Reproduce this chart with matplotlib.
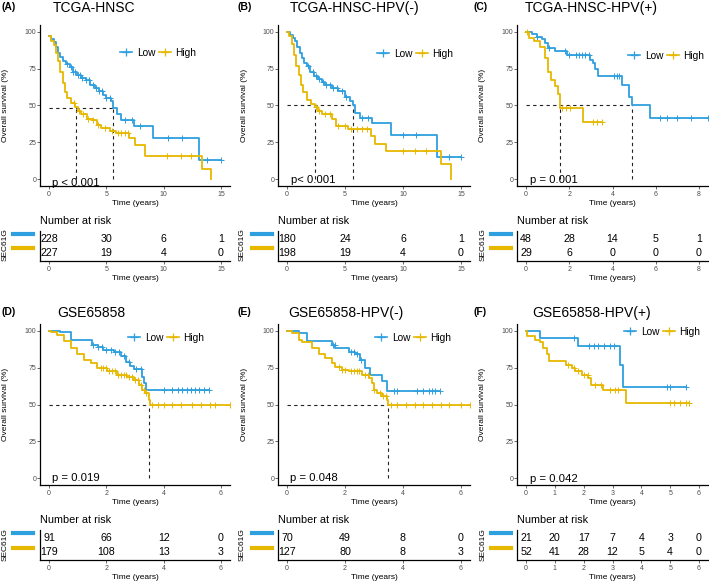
import numpy as np
import matplotlib
matplotlib.use('Agg')
import matplotlib.pyplot as plt
from matplotlib.lines import Line2D

plt.rcParams['font.family'] = ['Liberation Sans', 'DejaVu Sans']

blue = '#2E9FDF'
yellow = '#E7B800'

titles = ['TCGA-HNSC', 'TCGA-HNSC-HPV(-)', 'TCGA-HNSC-HPV(+)',
          'GSE65858', 'GSE65858-HPV(-)', 'GSE65858-HPV(+)']
letters = ['(A)', '(B)', '(C)', '(D)', '(E)', '(F)']
pvals = ['p < 0.001', 'p< 0.001', 'p = 0.001', 'p = 0.019', 'p = 0.048', 'p = 0.042']
xticks = [[0, 5, 10, 15], [0, 5, 10, 15], [0, 2, 4, 6, 8],
          [0, 2, 4, 6], [0, 2, 4, 6], [0, 1, 2, 3, 4, 5, 6]]

# survival curves: step times and survival (%), censor times
a_low_t = [0, 0.2, 0.4, 0.6, 0.8, 1.0, 1.2, 1.5, 1.8, 2.1, 2.4, 2.8, 3.2, 3.6, 4.0, 4.4, 4.7, 5.0, 5.4, 5.6, 5.9, 6.3, 7.4, 9.1, 13.1]
a_low_s = [97, 95, 93, 90, 86, 83, 80, 78, 76, 73, 71, 69, 67, 64, 62, 60, 57, 55, 53, 48, 44, 40, 36, 28, 13]
a_low_c = [1.6, 1.9, 2.1, 2.3, 2.5, 2.7, 2.9, 3.2, 3.5, 3.8, 4.1, 4.4, 4.6, 5.0, 5.3, 6.6, 7.2, 7.9, 10.4, 11.6, 13.8, 15.0]
a_high_t = [0, 0.2, 0.4, 0.6, 0.8, 1.0, 1.2, 1.4, 1.6, 1.9, 2.3, 2.5, 2.8, 3.3, 3.8, 4.2, 4.5, 5.3, 5.8, 7.0, 7.5, 8.4, 13.3, 14.1]
a_high_s = [97, 94, 91, 86, 80, 73, 65, 59, 55, 52, 49, 46, 44, 41, 40, 37, 35, 33, 31, 28, 23, 16, 7, 0]
a_high_c = [2.2, 2.6, 3.0, 3.4, 3.8, 4.3, 4.9, 5.5, 6.0, 6.3, 6.6, 6.9, 10.3, 11.5, 12.4]

b_low_t = [0, 0.3, 0.5, 0.7, 0.9, 1.1, 1.3, 1.5, 1.7, 2.0, 2.3, 2.7, 3.0, 3.3, 3.9, 4.4, 5.0, 5.4, 5.7, 5.9, 6.3, 7.3, 9.0, 12.9]
b_low_s = [100, 98, 96, 94, 90, 86, 82, 79, 77, 73, 70, 68, 66, 64, 62, 60, 56, 53, 50, 45, 41.5, 38, 30, 15]
b_low_c = [1.8, 2.2, 2.5, 2.8, 3.1, 3.4, 3.7, 4.0, 4.3, 4.7, 5.1, 6.5, 7.0, 10.0, 11.1, 14.0, 15.0]
b_high_t = [0, 0.2, 0.4, 0.6, 0.8, 1.0, 1.2, 1.4, 1.7, 2.1, 2.4, 2.7, 3.0, 3.9, 4.2, 5.3, 7.2, 7.6, 8.5, 13.3, 14.1]
b_high_s = [100, 97, 92, 84, 77, 71, 64, 59, 54, 51, 49, 46, 44, 40.5, 36, 34, 29, 24, 19, 10, 0]
b_high_c = [2.5, 2.8, 3.3, 3.7, 4.4, 5.0, 5.5, 6.0, 6.5, 6.9, 10.0, 11.0, 12.0]

c_low_t = [0, 0.28, 0.5, 0.74, 0.9, 1.04, 1.35, 1.9, 2.96, 3.1, 3.2, 3.35, 4.42, 4.78, 4.88, 5.73]
c_low_s = [100, 98.4, 96.6, 95, 92.5, 89, 87, 84.6, 81, 79, 75, 70, 64, 56, 50, 41.5]
c_low_c = [0.5, 1.05, 1.8, 2.0, 2.3, 2.45, 2.6, 2.75, 2.9, 4.05, 4.2, 4.3, 6.2, 6.5, 7.0, 7.65, 8.4]
c_high_t = [0, 0.12, 0.35, 0.66, 0.9, 1.04, 1.15, 1.35, 1.5, 1.55, 2.63]
c_high_s = [100, 96, 93.6, 90, 82, 73, 67.6, 63, 57.6, 48.3, 38.5]
c_high_c = [0.05, 1.65, 1.85, 2.05, 3.1, 3.3, 3.5]

d_low_t = [0, 0.4, 0.75, 1.5, 1.7, 1.9, 2.26, 2.5, 2.67, 2.84, 2.96, 3.25, 3.3, 3.4]
d_low_s = [100, 99, 93.6, 90.7, 89, 87, 85.5, 82.8, 79, 76, 74.4, 69, 64.6, 59.6]
d_low_c = [1.55, 1.7, 1.85, 2.0, 2.15, 2.3, 2.45, 2.6, 2.8, 3.05, 3.2, 4.0, 4.3, 4.5, 4.65, 4.8, 4.95, 5.1, 5.25, 5.4, 5.57]
d_high_t = [0, 0.06, 0.29, 0.52, 0.75, 0.99, 1.22, 1.45, 1.68, 2.03, 2.38, 2.73, 2.96, 3.13, 3.25, 3.36, 3.48, 3.51]
d_high_s = [100, 99, 97.5, 93, 88.4, 84, 80.5, 78, 74.8, 72.6, 70.3, 68.7, 66.9, 63.5, 60, 57.8, 53.3, 49.9]
d_high_c = [1.8, 1.9, 2.0, 2.1, 2.2, 2.3, 2.4, 2.5, 2.6, 2.7, 2.8, 2.9, 3.0, 3.1, 3.2, 3.3, 3.4, 3.6, 3.8, 4.0, 4.3, 4.6, 5.0, 5.3, 5.6, 5.8, 6.32]

e_low_t = [0, 0.4, 0.69, 1.55, 1.67, 2.13, 2.36, 2.53, 2.7, 2.87, 3.28, 3.45]
e_low_s = [100, 98.6, 93, 90.7, 88.4, 86, 84, 80.5, 74.8, 70.3, 65.8, 59.4]
e_low_c = [1.6, 1.65, 2.2, 2.3, 2.4, 2.55, 3.7, 3.8, 4.5, 4.7, 4.9, 5.0, 5.1, 5.29]
e_high_t = [0, 0.17, 0.4, 0.52, 0.86, 1.09, 1.32, 1.55, 1.67, 1.9, 2.13, 2.59, 2.82, 2.93, 2.99, 3.1, 3.28, 3.45, 3.5]
e_high_s = [100, 98.6, 94, 92.3, 88.4, 84, 81.6, 78.2, 75.5, 73.7, 72.6, 70.3, 68, 64.6, 60, 57.8, 55.6, 53.3, 49.9]
e_high_c = [1.8, 1.9, 2.0, 2.2, 2.3, 2.4, 2.5, 2.7, 2.8, 3.0, 3.2, 3.3, 3.4, 3.6, 3.8, 4.1, 4.4, 4.7, 5.0, 5.3, 5.6, 6.0, 6.32]

f_low_t = [0, 0.5, 1.79, 3.25, 3.35]
f_low_s = [100, 95.2, 89.6, 77, 61.7]
f_low_c = [1.65, 2.2, 2.35, 2.5, 2.7, 2.9, 3.05, 4.9, 5.0, 5.56]
f_high_t = [0, 0.05, 0.31, 0.48, 0.6, 0.72, 0.8, 1.4, 1.58, 1.7, 1.93, 2.16, 2.27, 2.68, 3.48]
f_high_s = [100, 96.8, 94, 92.3, 88.4, 84, 79.4, 77, 74.8, 72.6, 70.3, 68, 63.5, 60, 51]
f_high_c = [1.45, 1.65, 1.8, 2.0, 2.15, 2.4, 2.6, 2.9, 3.1, 3.2, 5.0, 5.15, 5.35, 5.55, 5.67]

# median survival lines (level, times)
med_level = [48, 50, 50, 50, 50, None]
med_times = [[2.35, 5.6], [2.44, 5.69], [1.55, 4.88], [3.5], [3.5], []]

# number at risk at each x tick
risk_low = [[228, 30, 6, 1], [180, 24, 6, 1], [48, 28, 14, 5, 1],
            [91, 66, 12, 0], [70, 49, 8, 0], [21, 20, 17, 7, 4, 3, 0]]
risk_high = [[227, 19, 4, 0], [198, 19, 4, 0], [29, 6, 0, 0, 0],
             [179, 108, 13, 3], [127, 80, 8, 3], [52, 41, 28, 12, 5, 4, 0]]

curves = [
    (a_low_t, a_low_s, a_low_c, a_high_t, a_high_s, a_high_c),
    (b_low_t, b_low_s, b_low_c, b_high_t, b_high_s, b_high_c),
    (c_low_t, c_low_s, c_low_c, c_high_t, c_high_s, c_high_c),
    (d_low_t, d_low_s, d_low_c, d_high_t, d_high_s, d_high_c),
    (e_low_t, e_low_s, e_low_c, e_high_t, e_high_s, e_high_c),
    (f_low_t, f_low_s, f_low_c, f_high_t, f_high_s, f_high_c),
]

W, H = 709, 582
fig = plt.figure(figsize=(W / 100, H / 100), dpi=100)


def box(l, t, r, b):
    return [l / W, 1 - b / H, (r - l) / W, (b - t) / H]


def fx(x):
    return x / W


def fy(y):
    return 1 - y / H


# pixel layout
col_x0 = [49, 287, 526]
col_x1 = [221, 461, 699]
col_ylab = [6, 244, 482]
col_letter = [2, 237, 474]
col_bar = [(13, 33), (252, 272), (491, 511)]
col_sec = [5, 242, 483]
title_x = [53, 290, 525, 57, 288, 532]
row_main = [(24.6, 186.4), (323.6, 485.4)]
row_high = [253, 552]
row_title = [8, 313]
row_nar = [221, 520]
row_bars = [(234, 248), (533, 548)]
legend_px = [(120, 53), (377, 54), (628, 56), (128, 338), (375, 338), (624, 332)]
pval_px = [(52, 183), (291, 180), (530, 180), (52, 478), (290, 478), (530, 479)]

tick_kw = dict(labelsize=5, colors='#4D4D4D', length=2, width=0.6, pad=1)


def style(ax):
    ax.spines['top'].set_visible(False)
    ax.spines['right'].set_visible(False)
    ax.spines['left'].set_linewidth(0.9)
    ax.spines['bottom'].set_linewidth(0.9)
    ax.tick_params(**tick_kw)


def step_value(t, s, x):
    return s[np.searchsorted(t, x, side='right') - 1]


for i in range(6):
    r, c = i // 3, i % 3
    T = xticks[i][-1]
    x0, x1 = col_x0[c], col_x1[c]
    L = x0 - 0.05 * (x1 - x0)
    R = x1 + 0.05 * (x1 - x0)
    top, bot = row_main[r]

    ax = fig.add_axes(box(L, top, R, bot))
    style(ax)
    ax.set_xlim(-0.05 * T, 1.05 * T)
    ax.set_ylim(-5, 105)
    ax.set_xticks(xticks[i])
    ax.set_yticks([0, 25, 50, 75, 100])
    ax.set_xlabel('Time (years)', fontsize=6, labelpad=1.5)

    lt, ls, lc, ht, hs, hc = curves[i]
    for t, s, cen, col in [(lt, ls, lc, blue), (ht, hs, hc, yellow)]:
        t = np.array(t, dtype=float)
        s = np.array(s, dtype=float)
        end = max(cen[-1], t[-1])
        tt = np.append(t, end)
        ss = np.append(s, s[-1])
        ax.step(tt, ss, where='post', color=col, lw=1.3, zorder=3)
        cy = [step_value(t, s, x) for x in cen]
        ax.plot(cen, cy, ls='none', marker='+', ms=4.5, mew=0.7, color=col, zorder=3)

    if med_level[i] is not None:
        lvl = med_level[i]
        ax.plot([0, max(med_times[i])], [lvl, lvl], color='#222222', lw=0.8, ls=(0, (3, 3)), zorder=2)
        for m in med_times[i]:
            ax.plot([m, m], [0, lvl], color='#222222', lw=0.8, ls=(0, (3, 3)), zorder=2)

    handles = [Line2D([], [], color=blue, lw=1.2, marker='+', ms=6, mew=0.9, label='Low'),
               Line2D([], [], color=yellow, lw=1.2, marker='+', ms=6, mew=0.9, label='High')]
    lx, ly = legend_px[i]
    fig.legend(handles=handles, loc='center left', bbox_to_anchor=(fx(lx), fy(ly)),
               ncol=2, frameon=False, fontsize=7.3, handlelength=1.2, handletextpad=0.45,
               columnspacing=0.35, borderpad=0, borderaxespad=0)

    px, py = pval_px[i]
    fig.text(fx(px), fy(py), pvals[i], fontsize=8.2, ha='left', va='center')

    fig.text(fx(title_x[i]), fy(row_title[r]), titles[i], fontsize=10, ha='left', va='center')
    fig.text(fx(col_letter[c]), fy(row_title[r] - 1), letters[i], fontsize=7.5,
             fontweight='bold', ha='left', va='center')
    fig.text(fx(col_ylab[c]), fy((top + bot) / 2), 'Overall survival (%)', fontsize=6,
             rotation=90, ha='center', va='center')

    # risk table
    hy = row_high[r]
    tax = fig.add_axes(box(L, hy - 1.6 * 14, R, hy + 0.6 * 14))
    style(tax)
    tax.set_xlim(-0.05 * T, 1.05 * T)
    tax.set_ylim(-0.6, 1.6)
    tax.set_xticks(xticks[i])
    tax.set_yticks([])
    tax.set_xlabel('Time (years)', fontsize=6, labelpad=1.5)
    for xv, nl, nh in zip(xticks[i], risk_low[i], risk_high[i]):
        tax.text(xv, 1, str(nl), ha='center', va='center', fontsize=7.7)
        tax.text(xv, 0, str(nh), ha='center', va='center', fontsize=7.7)

    fig.text(fx(L), fy(row_nar[r]), 'Number at risk', fontsize=7.8, ha='left', va='center')
    bx0, bx1 = col_bar[c]
    by_low, by_high = row_bars[r]
    fig.add_artist(Line2D([fx(bx0), fx(bx1)], [fy(by_low), fy(by_low)], color=blue, lw=3))
    fig.add_artist(Line2D([fx(bx0), fx(bx1)], [fy(by_high), fy(by_high)], color=yellow, lw=3))
    fig.text(fx(col_sec[c]), fy((by_low + by_high) / 2 + 4), 'SEC61G', fontsize=6,
             rotation=90, ha='center', va='center')

fig.savefig('out.png', dpi=100)
